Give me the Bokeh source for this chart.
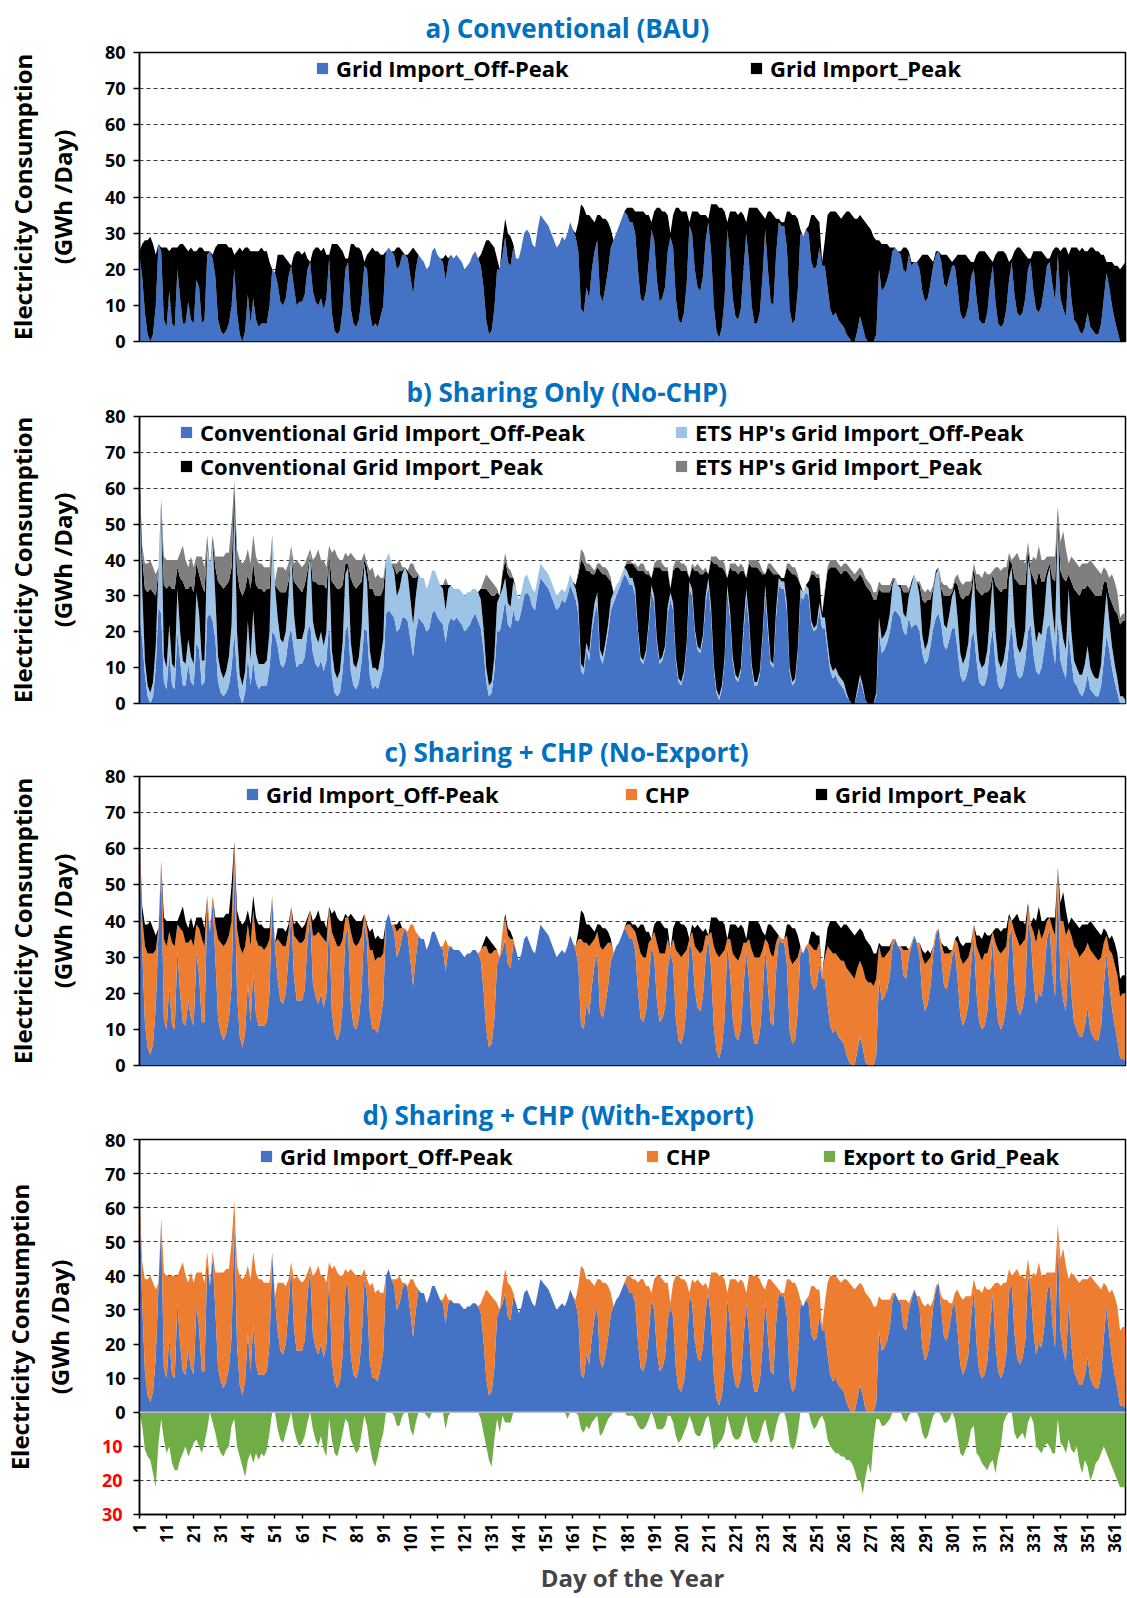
import math
from bokeh.plotting import figure
from bokeh.models import (ColumnDataSource, Range1d, FixedTicker, Legend,
                          LegendItem, LinearAxis, Span)
from bokeh.layouts import column
from bokeh.embed import file_html
from bokeh.resources import INLINE

# ---------------- data (GWh/day), one row per week (Sat..Fri) ----------------
days = list(range(1, 366))

# a) Conventional (BAU)
a_off = [
    24, 18, 8, 2, 0, 2, 10,   27, 25, 6, 4, 14, 5, 4,   20, 12, 5, 5, 11, 6, 5,
    17, 15, 5, 6, 24, 25, 23,  18, 6, 3, 2, 3, 5, 10,   20, 8, 2, 0, 3, 13, 5,
    12, 6, 4, 5, 5, 5, 10,    20, 19, 16, 11, 10, 12, 18, 21, 15, 10, 11, 11, 13, 20,
    22, 14, 11, 10, 12, 9, 12, 23, 8, 3, 2, 3, 9, 20,  22, 9, 5, 4, 6, 12, 21,
    20, 8, 4, 5, 4, 7, 10,    25, 26, 25, 24, 20, 21, 24, 24, 23, 18, 13, 20, 24, 23,
    22, 20, 21, 25, 26, 24, 23, 22, 17, 22, 24, 23, 24, 23, 22, 20, 21, 22, 24, 25, 23,
    21, 15, 6, 2, 3, 9, 20,   20, 24, 29, 22, 21, 26, 23, 23, 26, 30, 31, 30, 27, 26,
    31, 35, 34, 33, 32, 30, 28, 26, 27, 29, 28, 30, 33, 31, 29, 25, 9, 8, 15, 12, 20,
    25, 28, 13, 11, 15, 20, 26, 28, 30, 32, 34, 36, 35, 33, 33, 30, 20, 12, 11, 14, 22,
    31, 28, 17, 11, 12, 15, 25, 29, 26, 12, 6, 5, 8, 16,  32, 30, 20, 15, 14, 18, 28,
    33, 25, 10, 3, 1, 4, 12,  31, 24, 12, 7, 6, 9, 20,   30, 22, 10, 5, 5, 8, 18,
    31, 20, 11, 10, 24, 33, 32, 32, 26, 9, 5, 6, 14, 30, 29, 31, 30, 22, 20, 21, 26,
    21, 21, 15, 9, 7, 8, 6,   5, 4, 2, 1, 0, 0, 3,     7, 4, 1, 0, 0, 0, 2,
    20, 14, 15, 17, 20, 25, 26, 25, 24, 20, 19, 24, 21, 22, 22, 20, 14, 11, 12, 16, 21,
    24, 25, 22, 16, 15, 18, 21, 21, 15, 8, 6, 7, 10, 18, 20, 12, 6, 5, 5, 8, 16,
    21, 11, 5, 4, 5, 9, 17,   22, 13, 8, 7, 8, 12, 20,  22, 14, 9, 8, 10, 15, 21,
    22, 16, 11, 24, 12, 9, 7, 20, 12, 6, 5, 3, 2, 4,    8, 4, 3, 2, 2, 5, 12,
    19, 15, 10, 6, 3, 0, 0,   0,
]
a_peak = [
    1, 9, 20, 26, 29, 25, 14,  0, 1, 20, 22, 11, 21, 22,  6, 15, 22, 21, 14, 20, 20,
    8, 11, 21, 19, 1, 0, 1,    8, 21, 24, 25, 24, 21, 16,  4, 17, 24, 25, 23, 13, 20,
    13, 19, 21, 21, 20, 20, 12, 0, 0, 8, 13, 14, 11, 4,   0, 9, 15, 14, 13, 12, 3,
    0, 11, 15, 16, 13, 17, 12,  1, 19, 24, 25, 23, 16, 3,  1, 18, 22, 22, 20, 13, 1,
    4, 17, 22, 20, 21, 17, 14,  0, 0, 0, 1, 6, 5, 1,      0, 1, 7, 13, 5, 0, 0,
    0, 0, 0, 0, 0, 0, 0,       1, 7, 1, 0, 0, 0, 0,      0, 0, 0, 0, 0, 0, 0,
    3, 11, 22, 26, 24, 17, 3,  0, 4, 5, 8, 8, 1, 0,      0, 0, 0, 0, 0, 0, 0,
    0, 0, 0, 0, 0, 0, 0,       0, 0, 0, 0, 0, 0, 0,      1, 8, 29, 29, 20, 23, 14,
    8, 7, 22, 23, 19, 13, 5,   0, 0, 0, 0, 0, 2, 4,      4, 6, 16, 24, 25, 21, 13,
    2, 8, 20, 26, 24, 21, 10,  1, 9, 25, 31, 31, 28, 20,  1, 6, 16, 21, 21, 17, 7,
    1, 13, 28, 35, 36, 33, 24,  2, 12, 24, 29, 29, 27, 15, 3, 15, 27, 32, 32, 28, 17,
    3, 16, 25, 25, 10, 1, 1,   1, 10, 27, 30, 29, 20, 1,  0, 0, 2, 13, 15, 13, 7,
    1, 7, 20, 27, 29, 28, 29,  29, 31, 34, 35, 35, 34, 31, 28, 30, 32, 32, 31, 29, 26,
    8, 13, 12, 10, 6, 1, 0,    0, 1, 6, 7, 1, 1, 0,      0, 3, 10, 13, 12, 7, 1,
    1, 0, 2, 8, 9, 5, 1,       2, 9, 16, 18, 17, 13, 4,  2, 12, 19, 20, 20, 16, 7,
    1, 13, 20, 21, 20, 15, 5,  1, 12, 18, 19, 17, 12, 3,  1, 11, 16, 17, 15, 9, 2,
    1, 9, 15, 2, 13, 17, 19,   4, 14, 20, 21, 22, 24, 21, 17, 22, 23, 23, 23, 19, 12,
    3, 7, 12, 15, 18, 20, 21,  22,
]

# b) Sharing only: heat-pump (ETS HP) grid import on top of the conventional one
ets_off = [
    39, 14, 4, 3, 3, 4, 6,     10, 30, 7, 6, 8, 6, 6,    12, 8, 7, 6, 7, 7, 6,
    14, 10, 7, 6, 20, 12, 22,  12, 7, 6, 5, 6, 8, 12,    36, 12, 6, 5, 6, 10, 7,
    14, 8, 7, 6, 6, 7, 10,     26, 14, 8, 7, 7, 8, 12,   22, 10, 8, 7, 7, 8, 14,
    20, 9, 8, 7, 8, 7, 8,      18, 7, 6, 5, 6, 8, 16,    16, 8, 6, 6, 7, 9, 18,
    14, 7, 6, 5, 5, 6, 8,      15, 16, 14, 13, 10, 11, 12, 14, 13, 11, 9, 10, 12, 12,
    13, 12, 13, 12, 11, 11, 10, 10, 9, 10, 9, 9, 8, 9,   9, 10, 10, 9, 8, 7, 8,
    8, 6, 4, 3, 3, 4, 8,       10, 8, 6, 6, 6, 8, 9,     6, 5, 5, 5, 4, 5, 5,
    4, 4, 4, 4, 4, 4, 4,       4, 4, 3, 3, 3, 3, 3,      3, 3, 2, 2, 2, 2, 2,
    3, 3, 2, 2, 2, 2, 3,       3, 3, 2, 2, 2, 2, 2,      2, 2, 1, 1, 1, 1, 1,
    2, 2, 1, 1, 1, 1, 2,       2, 2, 1, 1, 1, 1, 1,      2, 2, 1, 1, 1, 1, 2,
    2, 2, 1, 1, 1, 1, 1,       2, 2, 1, 1, 1, 1, 2,      2, 2, 1, 1, 1, 1, 1,
    2, 2, 1, 1, 2, 2, 2,       2, 2, 1, 1, 1, 1, 2,      2, 2, 2, 1, 1, 1, 2,
    3, 3, 2, 2, 2, 2, 2,       2, 2, 1, 0, 0, 0, 1,      1, 1, 0, 0, 0, 0, 1,
    4, 4, 4, 4, 5, 8, 9,       8, 8, 5, 5, 6, 12, 14,    12, 10, 5, 4, 5, 6, 10,
    12, 13, 8, 6, 6, 7, 9,     11, 9, 6, 5, 6, 7, 10,    16, 8, 6, 5, 6, 7, 9,
    14, 9, 7, 6, 7, 8, 18,     16, 10, 8, 7, 8, 9, 20,   14, 10, 8, 12, 9, 10, 14,
    16, 10, 8, 28, 12, 9, 8,   12, 8, 6, 5, 5, 6, 7,     8, 6, 5, 5, 5, 6, 10,
    12, 8, 6, 5, 4, 2, 2,      1,
]
ets_peak = [
    0, 3, 7, 8, 8, 7, 6,       1, 1, 8, 8, 7, 8, 8,      2, 7, 10, 8, 6, 8, 7,
    2, 5, 8, 7, 2, 1, 1,       3, 7, 8, 9, 9, 8, 12,     2, 6, 8, 9, 8, 7, 7,
    8, 8, 7, 7, 7, 6, 6,       1, 1, 6, 7, 7, 6, 5,      1, 5, 7, 7, 7, 6, 4,
    1, 6, 7, 10, 7, 7, 6,      2, 8, 10, 9, 8, 7, 3,     2, 7, 8, 8, 7, 6, 2,
    1, 5, 6, 5, 6, 5, 3,       0, 0, 0, 1, 3, 3, 1,      0, 0, 3, 4, 2, 0, 0,
    0, 0, 0, 0, 0, 0, 0,       0, 2, 0, 0, 0, 0, 0,      0, 0, 0, 0, 0, 0, 0,
    0, 2, 4, 4, 4, 3, 1,       0, 1, 2, 2, 2, 0, 0,      0, 0, 0, 0, 0, 0, 0,
    0, 0, 0, 0, 0, 0, 0,       0, 0, 0, 0, 0, 0, 0,      0, 1, 3, 3, 2, 2, 2,
    1, 1, 2, 2, 2, 2, 1,       0, 0, 0, 0, 0, 1, 1,      0, 1, 1, 2, 2, 1, 1,
    0, 1, 2, 2, 2, 1, 1,       0, 1, 2, 2, 2, 2, 1,      0, 1, 1, 2, 2, 1, 1,
    0, 1, 2, 2, 2, 2, 2,       0, 1, 2, 2, 2, 2, 1,      0, 1, 2, 2, 2, 2, 1,
    0, 1, 2, 2, 1, 0, 0,       0, 1, 2, 2, 2, 1, 0,      0, 0, 0, 1, 1, 1, 1,
    0, 1, 1, 2, 2, 2, 2,       2, 2, 2, 2, 2, 2, 2,      2, 2, 2, 2, 2, 2, 2,
    2, 2, 2, 2, 2, 1, 0,       0, 0, 2, 2, 1, 0, 0,      0, 1, 3, 3, 3, 2, 1,
    0, 0, 2, 3, 3, 2, 1,       1, 3, 4, 4, 4, 4, 2,      1, 4, 5, 5, 6, 5, 4,
    1, 5, 6, 6, 6, 6, 2,       1, 6, 8, 7, 7, 6, 2,      2, 6, 7, 7, 6, 6, 4,
    2, 6, 7, 1, 8, 13, 9,      3, 7, 8, 8, 8, 7, 7,      6, 8, 8, 8, 7, 6, 4,
    3, 5, 8, 8, 6, 2, 2,       2,
]

# c) Sharing + CHP (no export)
c_off = [
    63, 32, 12, 5, 3, 6, 16,   37, 55, 13, 10, 22, 11, 10, 32, 20, 12, 11, 18, 13, 11,
    31, 25, 12, 12, 44, 37, 45, 30, 13, 9, 7, 9, 13, 22,  56, 20, 8, 5, 9, 23, 12,
    26, 14, 11, 11, 11, 12, 20, 46, 33, 24, 18, 17, 20, 30, 43, 25, 18, 18, 18, 21, 34,
    42, 23, 19, 17, 20, 16, 20, 41, 15, 9, 7, 9, 17, 36,  38, 17, 11, 10, 13, 21, 39,
    34, 15, 10, 10, 9, 13, 18, 40, 42, 39, 37, 30, 32, 36, 38, 36, 29, 22, 30, 36, 35,
    35, 32, 34, 37, 37, 35, 33, 32, 26, 32, 33, 32, 32, 32, 31, 30, 31, 31, 32, 32, 31,
    29, 21, 10, 5, 6, 13, 28,  30, 32, 35, 28, 27, 34, 32, 29, 31, 35, 36, 34, 32, 31,
    35, 39, 38, 37, 36, 34, 32, 30, 31, 32, 31, 33, 36, 34, 32, 28, 11, 10, 17, 14, 22,
    28, 31, 15, 13, 17, 22, 29, 31, 33, 34, 36, 38, 37, 35, 35, 32, 21, 13, 12, 15, 23,
    33, 30, 18, 12, 13, 16, 27, 31, 28, 13, 7, 6, 9, 17,  34, 32, 21, 16, 15, 19, 30,
    35, 27, 11, 4, 2, 5, 13,   33, 26, 13, 8, 7, 10, 22,  32, 24, 11, 6, 6, 9, 19,
    33, 22, 12, 11, 26, 35, 34, 34, 28, 10, 6, 7, 15, 32, 31, 33, 32, 23, 21, 22, 28,
    24, 24, 17, 11, 9, 10, 8,  7, 6, 3, 1, 0, 0, 4,      8, 5, 1, 0, 0, 0, 3,
    24, 18, 19, 21, 25, 33, 35, 33, 32, 25, 24, 30, 33, 36, 34, 30, 19, 15, 17, 22, 31,
    36, 38, 30, 22, 21, 25, 30, 32, 24, 14, 11, 13, 17, 28, 36, 20, 12, 10, 11, 15, 25,
    35, 20, 12, 10, 12, 17, 35, 38, 23, 16, 14, 16, 21, 40, 36, 24, 17, 20, 19, 25, 35,
    38, 26, 19, 52, 24, 18, 15, 32, 20, 12, 10, 8, 8, 11, 16, 10, 8, 7, 7, 11, 22,
    31, 23, 16, 11, 7, 2, 2,   1,
]
c_chp = [
    1, 9, 21, 26, 28, 25, 16,  1, 2, 22, 23, 15, 23, 23,  7, 18, 25, 23, 16, 22, 22,
    8, 13, 23, 21, 3, 1, 2,    9, 22, 25, 26, 25, 23, 18,  5, 18, 25, 26, 24, 16, 21,
    17, 21, 22, 22, 21, 21, 15, 1, 1, 11, 16, 16, 13, 7,  1, 11, 17, 16, 16, 14, 6,
    1, 13, 17, 20, 16, 19, 14,  3, 22, 26, 26, 24, 18, 5,  3, 20, 23, 23, 21, 15, 3,
    4, 17, 22, 19, 21, 17, 13,  0, 0, 0, 2, 7, 6, 2,      0, 1, 10, 17, 7, 0, 0,
    0, 0, 0, 0, 0, 0, 0,       1, 9, 1, 0, 0, 0, 0,      0, 0, 0, 0, 0, 0, 0,
    3, 12, 23, 26, 25, 19, 4,  0, 5, 6, 8, 8, 1, 0,      0, 0, 0, 0, 0, 0, 0,
    0, 0, 0, 0, 0, 0, 0,       0, 0, 0, 0, 0, 0, 0,      1, 7, 24, 24, 17, 19, 12,
    7, 6, 18, 19, 16, 12, 5,   0, 0, 0, 0, 0, 2, 4,      3, 5, 13, 18, 18, 15, 11,
    2, 7, 16, 19, 18, 15, 8,   1, 7, 19, 24, 24, 22, 15,  1, 5, 12, 16, 16, 13, 6,
    1, 10, 22, 27, 28, 26, 19,  2, 9, 18, 22, 22, 21, 12,  2, 11, 21, 24, 24, 21, 13,
    2, 12, 19, 19, 8, 1, 1,    1, 8, 20, 22, 22, 15, 1,  0, 0, 2, 10, 11, 10, 6,
    1, 6, 16, 21, 22, 21, 22,  22, 23, 24, 25, 25, 24, 23, 21, 22, 23, 23, 23, 22, 21,
    9, 12, 11, 10, 7, 2, 0,    0, 1, 7, 8, 2, 1, 0,      0, 4, 11, 13, 12, 8, 2,
    1, 0, 4, 9, 10, 6, 2,      3, 10, 16, 17, 16, 13, 5,  3, 13, 19, 19, 20, 16, 9,
    2, 14, 20, 21, 20, 16, 6,  2, 14, 19, 19, 18, 14, 4,  3, 13, 17, 18, 16, 12, 5,
    3, 12, 17, 3, 16, 22, 21,  6, 16, 21, 22, 22, 23, 21, 18, 22, 23, 23, 22, 19, 12,
    5, 9, 15, 17, 18, 17, 18,  19,
]
c_peak = [
    0, 3, 6, 8, 9, 7, 4,       0, 0, 6, 7, 3, 6, 7,      1, 4, 7, 6, 4, 6, 5,
    2, 3, 6, 5, 0, 0, 0,       2, 6, 7, 8, 8, 6, 10,     1, 5, 7, 8, 7, 4, 6,
    4, 6, 6, 6, 6, 5, 3,       0, 0, 3, 4, 5, 4, 2,      0, 3, 5, 5, 4, 4, 1,
    0, 4, 5, 6, 4, 5, 4,       0, 5, 8, 8, 7, 5, 1,      0, 5, 7, 7, 6, 4, 0,
    1, 5, 6, 6, 6, 5, 4,       0, 0, 0, 0, 2, 2, 0,      0, 0, 0, 0, 0, 0, 0,
    0, 0, 0, 0, 0, 0, 0,       0, 0, 0, 0, 0, 0, 0,      0, 0, 0, 0, 0, 0, 0,
    0, 1, 3, 4, 3, 1, 0,       0, 0, 1, 2, 2, 0, 0,      0, 0, 0, 0, 0, 0, 0,
    0, 0, 0, 0, 0, 0, 0,       0, 0, 0, 0, 0, 0, 0,      0, 2, 8, 8, 5, 6, 4,
    2, 2, 6, 6, 5, 3, 1,       0, 0, 0, 0, 0, 1, 1,      1, 2, 4, 8, 9, 7, 3,
    0, 2, 6, 9, 8, 7, 3,       0, 3, 8, 9, 9, 8, 6,      0, 2, 5, 7, 7, 5, 2,
    0, 4, 8, 10, 10, 9, 7,     0, 4, 8, 9, 9, 8, 4,      1, 5, 8, 10, 10, 9, 5,
    1, 5, 8, 8, 3, 0, 0,       0, 3, 9, 10, 9, 6, 0,     0, 0, 0, 4, 5, 4, 2,
    0, 2, 5, 8, 9, 9, 9,       9, 10, 12, 12, 12, 12, 10, 9, 10, 11, 11, 10, 9, 7,
    1, 3, 3, 2, 1, 0, 0,       0, 0, 1, 1, 0, 0, 0,      0, 0, 2, 3, 3, 1, 0,
    0, 0, 0, 2, 2, 1, 0,       0, 2, 4, 5, 5, 4, 1,      0, 3, 5, 6, 6, 5, 2,
    0, 4, 6, 6, 6, 5, 1,       0, 4, 7, 7, 6, 4, 1,      0, 4, 6, 6, 5, 3, 1,
    0, 3, 5, 0, 5, 8, 7,       1, 5, 7, 7, 8, 8, 7,      5, 8, 8, 8, 8, 6, 4,
    1, 3, 5, 6, 6, 5, 5,       5,
]

# d) Sharing + CHP (with export): CHP covers the whole peak, surplus exported
d_chp = [
    1, 12, 27, 34, 37, 32, 20, 1, 2, 28, 30, 18, 29, 30,  8, 22, 32, 29, 20, 28, 27,
    10, 16, 29, 26, 3, 1, 2,   11, 28, 32, 34, 33, 29, 28, 6, 23, 32, 34, 31, 20, 27,
    21, 27, 28, 28, 27, 26, 18, 1, 1, 14, 20, 21, 17, 9,  1, 14, 22, 21, 20, 18, 7,
    1, 17, 22, 26, 20, 24, 18,  3, 27, 34, 34, 31, 23, 6,  3, 25, 30, 30, 27, 19, 3,
    5, 22, 28, 25, 27, 22, 17,  0, 0, 0, 2, 9, 8, 2,      0, 1, 10, 17, 7, 0, 0,
    0, 0, 0, 0, 0, 0, 0,       1, 9, 1, 0, 0, 0, 0,      0, 0, 0, 0, 0, 0, 0,
    3, 13, 26, 30, 28, 20, 4,  0, 5, 7, 10, 10, 1, 0,    0, 0, 0, 0, 0, 0, 0,
    0, 0, 0, 0, 0, 0, 0,       0, 0, 0, 0, 0, 0, 0,      1, 9, 32, 32, 22, 25, 16,
    9, 8, 24, 25, 21, 15, 6,   0, 0, 0, 0, 0, 3, 5,      4, 7, 17, 26, 27, 22, 14,
    2, 9, 22, 28, 26, 22, 11,  1, 10, 27, 33, 33, 30, 21, 1, 7, 17, 23, 23, 18, 8,
    1, 14, 30, 37, 38, 35, 26,  2, 13, 26, 31, 31, 29, 16, 3, 16, 29, 34, 34, 30, 18,
    3, 17, 27, 27, 11, 1, 1,   1, 11, 29, 32, 31, 21, 1,  0, 0, 2, 14, 16, 14, 8,
    1, 8, 21, 29, 31, 30, 31,  31, 33, 36, 37, 37, 36, 33, 30, 32, 34, 34, 33, 31, 28,
    10, 15, 14, 12, 8, 2, 0,   0, 1, 8, 9, 2, 1, 0,      0, 4, 13, 16, 15, 9, 2,
    1, 0, 4, 11, 12, 7, 2,     3, 12, 20, 22, 21, 17, 6,  3, 16, 24, 25, 26, 21, 11,
    2, 18, 26, 27, 26, 21, 7,  2, 18, 26, 26, 24, 18, 5,  3, 17, 23, 24, 21, 15, 6,
    3, 15, 22, 3, 21, 30, 28,  7, 21, 28, 29, 30, 31, 28, 23, 30, 31, 31, 30, 25, 16,
    6, 12, 20, 23, 24, 22, 23, 24,
]
d_export = [
    0, -4, -11, -13, -14, -18, -22, -9, -2, -8, -12, -10, -15, -17,
    -17, -14, -12, -10, -13, -11, -9, -8, -10, -12, -9, -5, 0, -3,
    -6, -10, -12, -13, -11, -10, -4, -2, -10, -13, -16, -19, -14, -12,
    -15, -12, -14, -12, -13, -11, -6, 0, 0, -5, -8, -9, -6, -3,
    0, -5, -8, -10, -9, -7, -3, 0, -5, -8, -10, -7, -11, -13,
    -2, -8, -12, -13, -10, -6, -2, -3, -8, -10, -12, -11, -6, -1,
    -4, -10, -14, -16, -13, -9, -6, 0, 0, 0, -1, -4, -4, -1,
    0, 0, -5, -7, -3, 0, 0, 0, -1, -2, 0, 0, 0, 0,
    0, -5, -1, 0, 0, 0, 0, 0, 0, 0, 0, 0, 0, 0,
    -2, -6, -10, -14, -16, -8, -2, -6, -1, -3, -3, -3, 0, 0,
    0, 0, 0, 0, 0, 0, 0, 0, 0, 0, 0, 0, 0, 0,
    0, 0, 0, 0, -2, 0, 0, 0, -1, -5, -6, -4, -5, -3,
    -2, -1, -7, -6, -4, -2, -1, 0, 0, 0, 0, 0, -1, -1,
    -1, -2, -4, -5, -5, -4, -2, 0, -2, -5, -5, -5, -4, -1,
    -1, -3, -7, -9, -8, -6, -4, -1, -3, -6, -7, -7, -5, -2,
    -1, -5, -11, -10, -9, -8, -6, -1, -4, -7, -8, -8, -7, -4,
    -1, -5, -8, -9, -9, -7, -4, -2, -6, -9, -8, -4, -1, 0,
    0, -3, -9, -11, -10, -6, 0, 0, 0, 0, -3, -5, -4, -2,
    -1, -3, -8, -10, -11, -12, -12, -13, -13, -14, -14, -15, -17, -20,
    -20, -24, -19, -15, -18, -8, -2, -2, -4, -4, -3, -2, 0, 0,
    0, 0, -2, -3, -1, 0, 0, 0, -2, -6, -8, -7, -4, -1,
    0, 0, -1, -3, -3, -2, 0, -2, -7, -12, -13, -11, -9, -5,
    -4, -12, -13, -15, -16, -17, -15, -14, -18, -13, -10, -3, -1, 0,
    0, -6, -8, -7, -6, -8, -3, -1, -3, -10, -11, -12, -10, -9,
    -10, -12, -12, -2, -9, -10, -12, -8, -11, -12, -10, -15, -18, -14,
    -16, -20, -18, -15, -14, -12, -10, -12, -14, -16, -18, -20, -22, -22,
    -22,
]

y_ticks = [0, 10, 20, 30, 40, 50, 60, 70, 80]
y_ticks_d = [-30, -20, -10, 0, 10, 20, 30, 40, 50, 60, 70, 80]
y_ticks_d_neg = [-10, -20, -30]
neg_labels = {-10: "10", -20: "20", -30: "30"}
x_ticks_d = list(range(1, 366, 10))
Y_LABEL = "Electricity Consumption\n(GWh /Day)"

# ---------------- styling ----------------
FONT = "Open Sans"
BLUE, LBLUE, BLACK, GRAY = "#4472C4", "#9DC3E6", "#000000", "#7F7F7F"
ORANGE, GREEN, TITLE_C = "#ED7D31", "#70AD47", "#0070C0"

src = ColumnDataSource(dict(day=days, a_off=a_off, a_peak=a_peak,
                            ets_off=ets_off, ets_peak=ets_peak,
                            c_off=c_off, c_chp=c_chp, c_peak=c_peak,
                            d_chp=d_chp, d_export=d_export))


def style_tick_labels(ax, color="black"):
    ax.major_label_text_font = FONT
    ax.major_label_text_font_size = "18px"
    ax.major_label_text_font_style = "bold"
    ax.major_label_text_color = color
    ax.major_label_standoff = 8
    ax.major_tick_out = 6
    ax.major_tick_in = 0
    ax.minor_tick_line_color = None
    ax.major_tick_line_width = 1.5


def style_axis_label(ax, standoff):
    ax.axis_label = Y_LABEL
    ax.axis_label_text_font = FONT
    ax.axis_label_text_font_size = "24px"
    ax.axis_label_text_font_style = "bold"
    ax.axis_label_text_color = "black"
    ax.axis_label_standoff = standoff


def make_fig(title, height, top, bottom, left, x_end, y_start, title_offset):
    p = figure(width=1127, height=height, output_backend="svg", toolbar_location=None,
               x_range=Range1d(1, x_end), y_range=Range1d(y_start, 80),
               min_border_left=left, min_border_right=2, min_border_top=top,
               min_border_bottom=bottom, title=title)
    p.title.align = "left"
    p.title.offset = title_offset
    p.title.text_color = TITLE_C
    p.title.text_font = FONT
    p.title.text_font_size = "26px"
    p.title.text_font_style = "bold"
    p.title.standoff = 14
    p.outline_line_color = "black"
    p.outline_line_width = 1.5
    p.background_fill_color = "white"
    p.border_fill_color = "white"
    ya = p.yaxis[0]
    style_tick_labels(ya)
    ya.axis_line_width = 1.5
    p.xgrid.visible = False
    p.ygrid.grid_line_color = "#3a3a3a"
    p.ygrid.grid_line_dash = "4 3"
    p.ygrid.grid_line_width = 1
    return p


def add_legend(p, label, renderer, vx, vy):
    lg = Legend(items=[LegendItem(label=label, renderers=[renderer])],
                location=(vx, vy), orientation="horizontal", padding=0, margin=0,
                spacing=0, glyph_width=14, glyph_height=14, label_standoff=7,
                label_height=14, border_line_color=None, background_fill_alpha=0,
                label_text_font=FONT, label_text_font_size="22px",
                label_text_font_style="bold", label_text_color="black")
    p.add_layout(lg)


def finish_top(p):
    p.yaxis[0].ticker = FixedTicker(ticks=y_ticks)
    style_axis_label(p.yaxis[0], 23)
    p.ygrid.ticker = FixedTicker(ticks=y_ticks[1:-1])
    p.xaxis.visible = False


# a) Conventional (BAU)
pa = make_fig("a) Conventional (BAU)", 355, 51, 14, 132, 365, 0, 286)
finish_top(pa)
ra = pa.varea_stack(stackers=["a_off", "a_peak"], x="day", color=[BLUE, BLACK], source=src)
add_legend(pa, "Grid Import_Off-Peak", ra[0], 176, 258)
add_legend(pa, "Grid Import_Peak", ra[1], 610, 258)

# b) Sharing Only (No-CHP)
pb = make_fig("b) Sharing Only (No-CHP)", 361, 61, 13, 132, 365, 0, 267)
finish_top(pb)
rb = pb.varea_stack(stackers=["a_off", "ets_off", "a_peak", "ets_peak"], x="day",
                    color=[BLUE, LBLUE, BLACK, GRAY], source=src)
add_legend(pb, "Conventional Grid Import_Off-Peak", rb[0], 40, 256)
add_legend(pb, "ETS HP's Grid Import_Off-Peak", rb[1], 535, 256)
add_legend(pb, "Conventional Grid Import_Peak", rb[2], 40, 222)
add_legend(pb, "ETS HP's Grid Import_Peak", rb[3], 535, 222)

# c) Sharing + CHP (No-Export)
pc = make_fig("c) Sharing + CHP (No-Export)", 363, 60, 14, 132, 365, 0, 245)
finish_top(pc)
rc = pc.varea_stack(stackers=["c_off", "c_chp", "c_peak"], x="day",
                    color=[BLUE, ORANGE, BLACK], source=src)
add_legend(pc, "Grid Import_Off-Peak", rc[0], 106, 256)
add_legend(pc, "CHP", rc[1], 485, 256)
add_legend(pc, "Grid Import_Peak", rc[2], 675, 256)

# d) Sharing + CHP (With-Export)
pd_ = make_fig("d) Sharing + CHP (With-Export)", 519, 60, 84, 139, 365, -30, 223)
ya_d = pd_.yaxis[0]
ya_d.ticker = FixedTicker(ticks=y_ticks_d)
ya_d.major_label_overrides = {-10: " ", -20: " ", -30: " "}
pd_.ygrid.ticker = FixedTicker(ticks=[-20, -10, 10, 20, 30, 40, 50, 60, 70])
# second (outer) left axis: red labels for the export part, pulled onto the
# same label column as the black labels; it also carries the axis title
red_axis = LinearAxis(ticker=FixedTicker(ticks=y_ticks_d_neg),
                      major_label_overrides=neg_labels)
style_tick_labels(red_axis, "#FF0000")
red_axis.axis_line_color = None
red_axis.major_tick_line_color = None
red_axis.major_tick_out = 0
red_axis.major_label_standoff = -21
style_axis_label(red_axis, 23)
pd_.add_layout(red_axis, "left")

rd = pd_.varea_stack(stackers=["c_off", "d_chp"], x="day", color=[BLUE, ORANGE], source=src)
rexp = pd_.varea(x="day", y1=0, y2="d_export", color=GREEN, source=src)
pd_.add_layout(Span(location=0, dimension="width", line_color="#BFBFBF", line_width=1.5))
xa = pd_.xaxis[0]
xa.ticker = FixedTicker(ticks=x_ticks_d)
xa.major_label_orientation = math.pi / 2
style_tick_labels(xa)
xa.major_label_text_font_size = "17px"
xa.major_label_standoff = 5
xa.major_tick_out = 4
xa.axis_line_width = 1.5
xa.axis_label = "Day of the Year"
xa.axis_label_text_font = FONT
xa.axis_label_text_font_size = "24px"
xa.axis_label_text_font_style = "bold"
xa.axis_label_standoff = 5
add_legend(pd_, "Grid Import_Off-Peak", rd[0], 120, 343)
add_legend(pd_, "CHP", rd[1], 506, 343)
add_legend(pd_, "Export to Grid_Peak", rexp, 683, 343)

layout = column(pa, pb, pc, pd_, spacing=0)
open("out.html", "w").write(file_html(layout, INLINE))
